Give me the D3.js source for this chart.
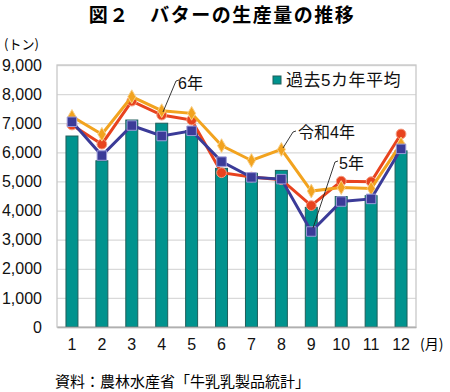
<!DOCTYPE html>
<html>
<head>
<meta charset="utf-8">
<script src="https://cdn.jsdelivr.net/npm/d3@7"></script>
<style>
  body { margin: 0; background: #fff; }
  svg { display: block; font-family: "Liberation Sans", "Noto Sans CJK JP", sans-serif; }
</style>
</head>
<body>
<script>
// data (tons)
const months = ["1", "2", "3", "4", "5", "6", "7", "8", "9", "10", "11", "12"];
const avg5 = [6560, 5710, 7110, 7000, 6750, 5450, 5280, 5380, 4110, 4480, 4510, 6050];
const r4 = [7230, 6620, 7910, 7430, 7340, 6230, 5720, 6100, 4670, 4790, 4760, 6290];
const r5 = [7050, 5890, 6920, 6560, 6740, 5680, 5140, 5080, 3280, 4310, 4400, 6120];
const r6 = [6940, 6280, 7760, 7280, 7110, 5300, 5150, 5060, 4170, 5010, 4990, 6630];
const yTicks = [0, 1000, 2000, 3000, 4000, 5000, 6000, 7000, 8000, 9000];

const w = 450, h = 392;
const plotL = 57, plotR = 416, plotT = 65, plotB = 327;

const svg = d3.select("body").append("svg")
  .attr("width", w)
  .attr("height", h);

const x = d3.scaleBand()
  .domain(months)
  .range([plotL, plotR])
  .paddingInner(0.6)
  .paddingOuter(0.3);
const cx = d => x(d) + x.bandwidth() / 2;

const y = d3.scaleLinear()
  .domain([0, 9000])
  .range([plotB, plotT]);

// title
svg.append("text")
  .attr("x", 222).attr("y", 22)
  .attr("text-anchor", "middle")
  .style("font-family", "Noto Sans CJK JP")
  .style("font-size", "19px")
  .style("font-weight", "bold")
  .style("letter-spacing", "1.5px")
  .text("図２　バターの生産量の推移");

svg.append("text")
  .attr("x", 4).attr("y", 49)
  .style("font-family", "Noto Sans CJK JP")
  .style("font-size", "13px")
  .text("(トン)");

// grid + y axis
const yAxis = d3.axisLeft(y)
  .tickValues(yTicks)
  .tickSize(-(plotR - plotL))
  .tickPadding(15)
  .tickFormat(d3.format(","));

const gy = svg.append("g")
  .attr("transform", "translate(" + plotL + ",0)")
  .call(yAxis);
gy.select(".domain").remove();
gy.selectAll(".tick line").attr("stroke", "#d9d9d9").attr("stroke-width", 1.3);
gy.selectAll(".tick text").style("font-size", "16px").attr("fill", "#111");

// plot frame
svg.append("rect")
  .attr("x", plotL).attr("y", plotT)
  .attr("width", plotR - plotL).attr("height", plotB - plotT)
  .attr("fill", "none")
  .attr("stroke", "#c8c8c8")
  .attr("stroke-width", 1.3);

// bars
svg.selectAll("rect.bar")
  .data(avg5)
  .enter()
  .append("rect")
  .attr("class", "bar")
  .attr("x", (d, i) => x(months[i]))
  .attr("y", d => y(d))
  .attr("width", x.bandwidth())
  .attr("height", d => y(0) - y(d))
  .attr("fill", "#00938e")
  .attr("stroke", "#1f5e5a")
  .attr("stroke-width", 1);

// x axis
const xAxis = d3.axisBottom(x).tickSize(0).tickPadding(12);
const gx = svg.append("g")
  .attr("transform", "translate(0," + plotB + ")")
  .call(xAxis);
gx.select(".domain").attr("stroke", "#b0b0b0").attr("stroke-width", 1.5);
gx.selectAll(".tick text").style("font-size", "16px").attr("fill", "#111");

svg.append("text")
  .attr("x", 420).attr("y", 349)
  .style("font-family", "Noto Sans CJK JP")
  .style("font-size", "14px")
  .text("(月)");

const line = d3.line()
  .x((d, i) => cx(months[i]))
  .y(d => y(d));

function drawSeries(vals, color, shape, size, edge) {
  svg.append("path")
    .datum(vals)
    .attr("d", line)
    .attr("fill", "none")
    .attr("stroke", color)
    .attr("stroke-width", 3);
  svg.append("g").selectAll("path")
    .data(vals)
    .enter()
    .append("path")
    .attr("transform", (d, i) => "translate(" + cx(months[i]) + "," + y(d) + ")")
    .attr("d", d3.symbol().type(shape).size(size))
    .attr("fill", color)
    .attr("stroke", edge)
    .attr("stroke-width", 1);
}

drawSeries(r6, "#e8431e", d3.symbolCircle, 75, "#f39a80");
drawSeries(r4, "#f2a31f", d3.symbolDiamond, 55, "#f8cf86");
drawSeries(r5, "#3b3b98", d3.symbolSquare, 90, "#9a9ad8");

// callouts
const notes = [
  { label: "6年", lx: 178, ly: 89, x1: 176, y1: 81, x2: 163, y2: 112 },
  { label: "令和4年", lx: 298, ly: 138, x1: 293, y1: 132, x2: 283, y2: 148 },
  { label: "5年", lx: 339, ly: 169, x1: 335, y1: 162, x2: 313, y2: 228 }
];
notes.forEach(n => {
  svg.append("polyline")
    .attr("points", [[n.x1 + 3, n.y1 - 1], [n.x1, n.y1], [n.x2, n.y2]].join(" "))
    .attr("fill", "none")
    .attr("stroke", "#222")
    .attr("stroke-width", 0.9);
  svg.append("text")
    .attr("x", n.lx).attr("y", n.ly)
    .style("font-size", "16px")
    .attr("fill", "#111")
    .text(n.label);
});

// legend
const legend = svg.append("g").attr("transform", "translate(273,76)");
legend.append("rect")
  .attr("width", 8).attr("height", 8)
  .attr("fill", "#00938e")
  .attr("stroke", "#1f5e5a");
legend.append("text")
  .attr("x", 13).attr("y", 10)
  .style("font-size", "17px")
  .style("letter-spacing", "0.5px")
  .attr("fill", "#111")
  .text("過去5カ年平均");

// source
svg.append("text")
  .attr("x", 55).attr("y", 387)
  .style("font-family", "Noto Sans CJK JP")
  .style("font-size", "15px")
  .text("資料：農林水産省「牛乳乳製品統計」");
</script>
</body>
</html>
